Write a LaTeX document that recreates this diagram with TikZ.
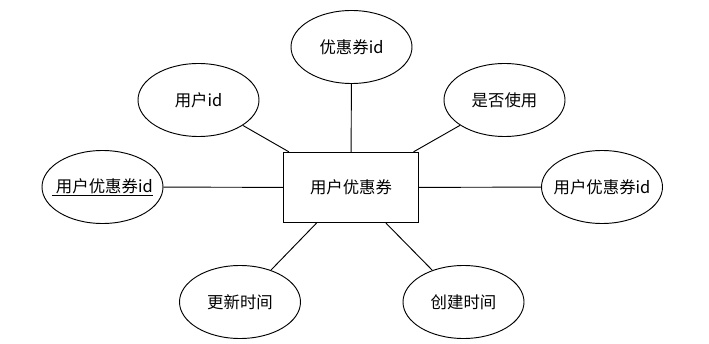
\documentclass[tikz,border=0pt]{standalone}
\usepackage{fontspec}
\setmainfont{Noto Sans CJK SC}
\usepackage{tikz}
\usetikzlibrary{shapes,positioning}

\begin{document}
\begin{tikzpicture}[
    x=0.03cm, y=-0.03cm,
    attr/.style={ellipse, draw, inner sep=-8pt, minimum width=3.63cm, minimum height=2.19cm, font=\fontsize{14}{16}\selectfont},
    entity/.style={rectangle, draw, inner sep=0pt, minimum width=4.06cm, minimum height=2.11cm, font=\fontsize{14}{16}\selectfont},
    link/.style={line width=0.8pt}
]
    \useasboundingbox (0,0) rectangle (709,344);
    \tikzset{every node/.append style={line width=0.8pt}}

    \node[entity] (coupon) at (351,187.5) {用户优惠券};

    \node[attr] (cid) at (351.5,47) {优惠券id};
    \node[attr] (uid) at (198.5,100) {用户id};
    \node[attr] (used) at (504.5,100) {是否使用};
    \node[attr] (pk) at (102.5,187) {\underline{\ 用户优惠券id}};
    \node[attr] (ucid) at (602,187) {用户优惠券id};
    \node[attr] (upd) at (240,302) {更新时间};
    \node[attr] (crt) at (463.5,302) {创建时间};

    \draw[link] (cid) -- (coupon);
    \draw[link] (uid) -- (coupon);
    \draw[link] (used) -- (coupon);
    \draw[link] (pk) -- (coupon);
    \draw[link] (ucid) -- (coupon);
    \draw[link] (upd) -- (coupon);
    \draw[link] (crt) -- (coupon);
\end{tikzpicture}
\end{document}
